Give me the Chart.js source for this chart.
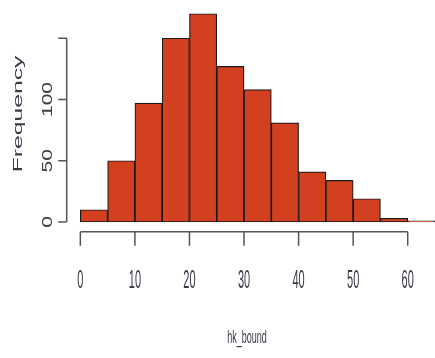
<!DOCTYPE html>
<html>
<head>
<meta charset="utf-8">
<script src="https://cdn.jsdelivr.net/npm/chart.js@4/dist/chart.umd.min.js"></script>
<style>
  html, body { margin: 0; padding: 0; background: #fff; }
  #wrap { width: 435px; height: 358px; }
</style>
</head>
<body>
<div id="wrap"><canvas id="histChart" width="435" height="358"></canvas></div>
<script>
// histogram of hk_bound, bins of width 5
const binEdges = [0, 5, 10, 15, 20, 25, 30, 35, 40, 45, 50, 55, 60, 65];
const frequency = [10, 50, 97, 150, 170, 127, 108, 81, 41, 34, 19, 3, 1];
const xTicks = [0, 10, 20, 30, 40, 50, 60];
const yTicks = [0, 50, 100, 150];
const yTickLabels = ['0', '50', '100', ''];

const points = frequency.map((f, i) => ({ x: (binEdges[i] + binEdges[i + 1]) / 2, y: f }));

const textColor = '#3b3b4a';
const axisColor = '#555';

// draws text stretched vertically like the resized R output
function stretchedText(ctx, txt, x, y, k, rot) {
  ctx.save();
  ctx.translate(x, y);
  ctx.scale(1, k);
  if (rot) ctx.rotate(rot);
  ctx.textAlign = 'center';
  ctx.textBaseline = 'middle';
  ctx.fillText(txt, 0, 0);
  ctx.restore();
}

const rAxes = {
  id: 'rAxes',
  afterDraw(chart) {
    const ctx = chart.ctx;
    const xs = chart.scales.x, ys = chart.scales.y;
    const axisY = chart.chartArea.bottom;
    const axisX = chart.chartArea.left;
    ctx.save();
    ctx.strokeStyle = axisColor;
    ctx.lineWidth = 1.5;

    // x axis
    ctx.beginPath();
    ctx.moveTo(xs.getPixelForValue(xTicks[0]), axisY);
    ctx.lineTo(xs.getPixelForValue(xTicks[xTicks.length - 1]), axisY);
    xTicks.forEach(t => {
      const px = xs.getPixelForValue(t);
      ctx.moveTo(px, axisY);
      ctx.lineTo(px, axisY + 14);
    });
    ctx.stroke();

    // y axis
    ctx.beginPath();
    ctx.moveTo(axisX, ys.getPixelForValue(yTicks[0]));
    ctx.lineTo(axisX, ys.getPixelForValue(yTicks[yTicks.length - 1]));
    yTicks.forEach(t => {
      const py = ys.getPixelForValue(t);
      ctx.moveTo(axisX, py);
      ctx.lineTo(axisX - 8.5, py);
    });
    ctx.stroke();

    ctx.fillStyle = textColor;
    ctx.font = '11px "Liberation Sans", Arial, sans-serif';
    xTicks.forEach(t => {
      stretchedText(ctx, String(t), xs.getPixelForValue(t), axisY + 49, 2.3);
    });

    ctx.font = '14px "Liberation Sans", Arial, sans-serif';
    yTicks.forEach((t, i) => {
      if (yTickLabels[i]) stretchedText(ctx, yTickLabels[i], 48, ys.getPixelForValue(t), 1.5, -Math.PI / 2);
    });

    ctx.font = '13px "Liberation Sans", Arial, sans-serif';
    stretchedText(ctx, 'Frequency', 18, 114, 1.9, -Math.PI / 2);

    ctx.font = '9px "Liberation Sans", Arial, sans-serif';
    stretchedText(ctx, 'hk_bound', (xs.getPixelForValue(0) + xs.getPixelForValue(60)) / 2 + 3, 338, 2.0);
    ctx.restore();
  }
};

new Chart(document.getElementById('histChart'), {
  type: 'bar',
  data: {
    datasets: [{
      label: 'hk_bound',
      data: points,
      backgroundColor: 'rgb(211, 64, 32)',
      borderColor: '#1a1a1a',
      borderWidth: 1.2,
      borderSkipped: false,
      barPercentage: 1,
      categoryPercentage: 1,
      grouped: false
    }]
  },
  options: {
    responsive: false,
    animation: false,
    layout: { padding: { left: 66.7, right: 0, top: 6.4, bottom: 126.2 } },
    plugins: { legend: { display: false }, tooltip: { enabled: false } },
    scales: {
      x: { type: 'linear', min: -2.5, max: 65, offset: false, display: false },
      y: { min: -8, max: 176, display: false }
    }
  },
  plugins: [rAxes]
});
</script>
</body>
</html>
